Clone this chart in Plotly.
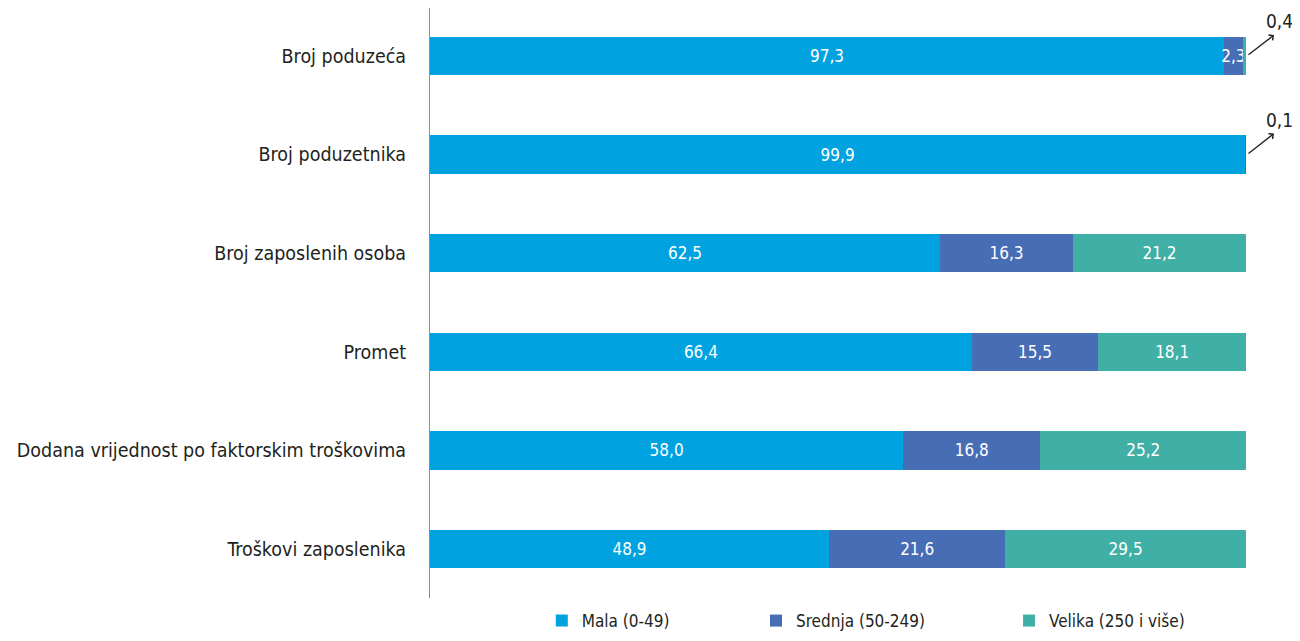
import plotly.graph_objects as go

categories = ["Broj poduzeća", "Broj poduzetnika", "Broj zaposlenih osoba", "Promet",
              "Dodana vrijednost po faktorskim troškovima", "Troškovi zaposlenika"]
mala = [97.3, 99.9, 62.5, 66.4, 58.0, 48.9]
srednja = [2.3, 0.1, 16.3, 15.5, 16.8, 21.6]
velika = [0.4, 0.0, 21.2, 18.1, 25.2, 29.5]
series_names = ["Mala (0-49)", "Srednja (50-249)", "Velika (250 i više)"]
colors = ["#00A3E0", "#476DB5", "#40B0A6"]
# small shares shown with arrow callouts instead of inside labels
callouts = [("Broj poduzeća", "0,4"), ("Broj poduzetnika", "0,1")]

FONT = "DejaVu Sans Condensed, Liberation Sans Narrow, Arial Narrow, sans-serif"

def inside_text(vals):
    return [("%.1f" % v).replace(".", ",") if v >= 2 else "" for v in vals]

fig = go.Figure()
legends = ["legend", "legend2", "legend3"]
for vals, name, col, lg in zip([mala, srednja, velika], series_names, colors, legends):
    fig.add_trace(go.Bar(
        y=categories, x=vals, name=name, orientation="h",
        marker=dict(color=col, line=dict(width=0)),
        text=inside_text(vals), textposition="inside", insidetextanchor="middle",
        textangle=0, constraintext="none",
        textfont=dict(color="white", size=17, family=FONT),
        legend=lg, showlegend=True, hoverinfo="x+name",
    ))

for cat, label in callouts:
    fig.add_annotation(x=100, y=cat, xref="x", yref="y", text="", showarrow=True,
                       arrowhead=4, arrowsize=1, arrowwidth=1.3, arrowcolor="#231F20",
                       axref="pixel", ayref="pixel", ax=-27, ay=21, xshift=28, yshift=21)
    fig.add_annotation(x=100, y=cat, xref="x", yref="y", text=label, showarrow=False,
                       xshift=33, yshift=35, font=dict(size=19, color="#231F20", family=FONT))

leg_common = dict(orientation="h", yanchor="middle", xanchor="left", y=-0.039,
                  font=dict(size=17, color="#231F20", family=FONT), bgcolor="rgba(0,0,0,0)",
                  itemclick=False)
fig.update_layout(
    barmode="stack", bargap=0.61,
    width=1284, height=625, showlegend=True,
    margin=dict(l=422, r=46, t=0, b=35, autoexpand=False),
    plot_bgcolor="white", paper_bgcolor="white",
    font=dict(family=FONT, size=19.5, color="#231F20"),
    uniformtext=dict(minsize=17, mode="show"),
    legend=dict(leg_common, x=0.137),
    legend2=dict(leg_common, x=0.3995),
    legend3=dict(leg_common, x=0.7096),
    xaxis=dict(range=[0, 100], visible=False, fixedrange=True),
    yaxis=dict(range=[5.497, -0.487], showline=True, linecolor="#8C8C8C", linewidth=1,
               ticks="", showgrid=False, zeroline=False, ticklabelstandoff=19,
               automargin=False, fixedrange=True,
               tickfont=dict(size=19.5, color="#231F20", family=FONT)),
)

fig.write_html("out.html")
